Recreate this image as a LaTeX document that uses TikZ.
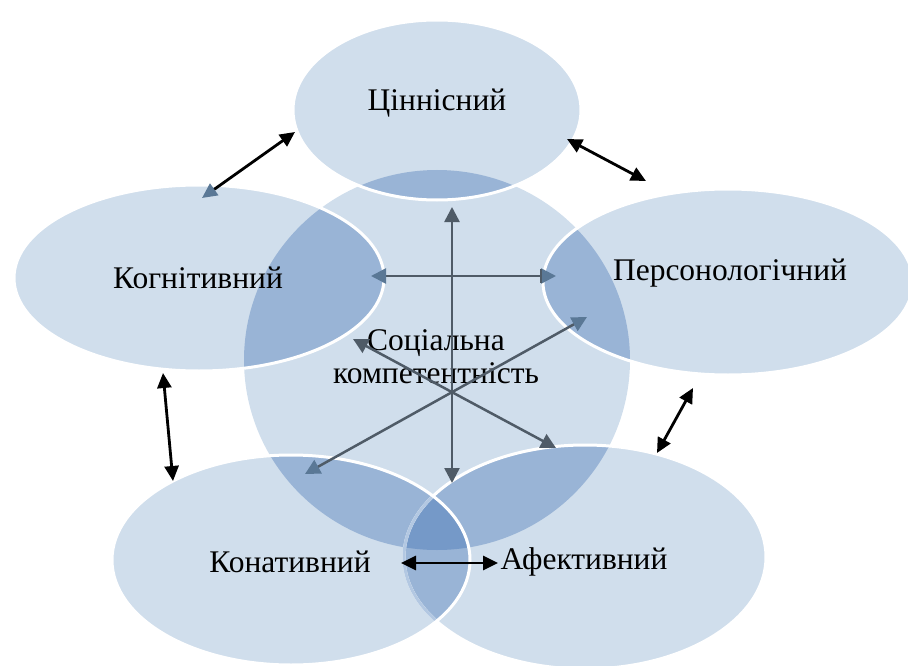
\documentclass[tikz,border=0pt]{standalone}
\usepackage{fontspec}
\setmainfont{Liberation Serif}
\usetikzlibrary{arrows.meta}
\definecolor{lightfill}{HTML}{D0DEEC}
\definecolor{darkfill}{HTML}{99B4D6}
\definecolor{triplefill}{HTML}{7599C8}
\definecolor{faintedge}{HTML}{B3C8E2}
\definecolor{slate}{HTML}{4F5B67}
\definecolor{slateblue}{HTML}{5A7896}
\tikzset{
  dtip/.tip={Triangle[length=15pt,width=15pt]},
  btip/.tip={Triangle[length=15pt,width=15pt,color=slateblue]},
  ktip/.tip={Triangle[length=15pt,width=14pt]},
  kbtip/.tip={Triangle[length=15pt,width=14pt,color=slateblue]},
}
\begin{document}
\begin{tikzpicture}[x=1pt,y=-1pt,
  lbl/.style={font=\fontsize{31.5}{33}\selectfont, text=black, inner sep=0pt, align=center},
  outline/.style={draw=white, line width=3pt},
  circpath/.style={insert path={(437,360) ellipse [x radius=193, y radius=190]}},
  cinpath/.style={insert path={(437,110) ellipse [x radius=144, y radius=90]}},
  kogpath/.style={insert path={(199,278) ellipse [x radius=185, y radius=93]}},
  perpath/.style={insert path={(728,282) ellipse [x radius=185, y radius=93]}},
  konpath/.style={insert path={(291,560) ellipse [x radius=179, y radius=105]}},
  afepath/.style={insert path={(585,557) ellipse [x radius=181, y radius=112]}},
  inline/.style={draw=slate, line width=2.5pt},
  outarrow/.style={draw=black, line width=2.8pt},
]
\useasboundingbox (0,0) rectangle (908,666);
\clip (0,0) rectangle (908,666);
% base fills
\fill[lightfill, circpath];
\fill[lightfill, cinpath];
\fill[lightfill, kogpath];
\fill[lightfill, perpath];
\fill[lightfill, afepath];
\fill[lightfill, konpath];
% overlaps with the central circle
\begin{scope}
  \clip[circpath];
  \fill[darkfill, cinpath];
  \fill[darkfill, kogpath];
  \fill[darkfill, perpath];
  \fill[darkfill, afepath];
  \fill[darkfill, konpath];
\end{scope}
% overlap of Конативний and Афективний
\begin{scope}
  \clip[konpath];
  \fill[darkfill, afepath];
  \clip[circpath];
  \fill[triplefill, afepath];
\end{scope}
% outlines
\draw[outline, cinpath];
\draw[outline, kogpath];
\draw[outline, perpath];
\draw[outline, afepath];
\begin{scope}
  \clip[konpath];
  \draw[draw=faintedge, line width=3pt, afepath];
\end{scope}
\draw[outline, konpath];

% labels
\node[lbl] (tcin) at (437,103) {Ціннісний};
\node[lbl] (tkog) at (198,278) {Когнітивний};
\node[lbl] (tper) at (730,273) {Персонологічний};
\node[lbl] (tsoc) at (436,357) {Соціальна\\компетентність};
\node[lbl] (tkon) at (290,562) {Конативний};
\node[lbl] (tafe) at (584,562) {Афективний};

% inner arrows
\coordinate (vt) at (452,207);
\coordinate (vb) at (452,483);
\coordinate (hl) at (371,276);
\coordinate (hr) at (556,276);
\coordinate (hb1) at (541,269);
\coordinate (hb2) at (541,283);
\coordinate (dur) at (587,317);
\coordinate (dll) at (305,474);
\coordinate (dul) at (353,339);
\coordinate (dlr) at (556,448);
\draw[inline, dtip-dtip] (vb) -- (vt);
\draw[inline, btip-btip] (hl) -- (hr);
\draw[inline] (hb1) -- (hb2);
\draw[inline, btip-btip] (dur) -- (dll);
\draw[inline, dtip-dtip] (dul) -- (dlr);

% outer arrows
\coordinate (a1) at (295,132);
\coordinate (a2) at (202,198);
\coordinate (b1) at (567,139);
\coordinate (b2) at (646,181);
\coordinate (c1) at (163,373);
\coordinate (c2) at (173,481);
\coordinate (d1) at (693,388);
\coordinate (d2) at (657,453);
\coordinate (e1) at (401,563);
\coordinate (e2) at (498,563);
\draw[outarrow, ktip-kbtip] (a1) -- (a2);
\draw[outarrow, ktip-ktip] (b1) -- (b2);
\draw[outarrow, ktip-ktip] (c1) -- (c2);
\draw[outarrow, ktip-ktip] (d1) -- (d2);
\draw[outarrow, ktip-ktip] (e1) -- (e2);
\end{tikzpicture}
\end{document}
